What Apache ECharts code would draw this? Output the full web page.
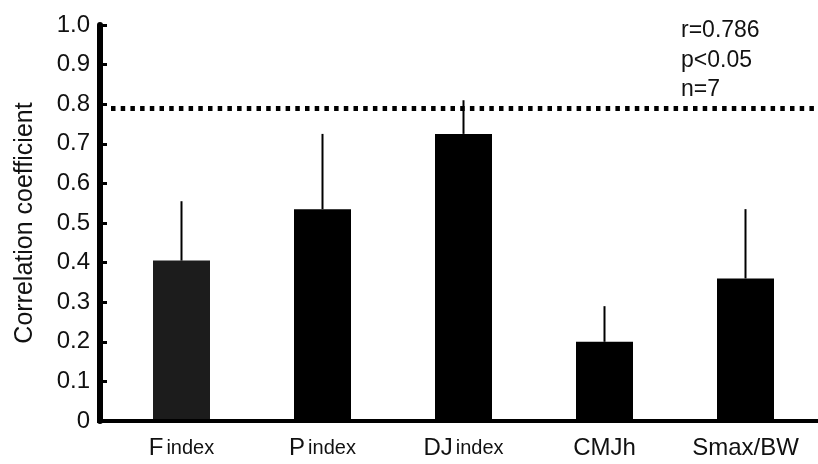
<!DOCTYPE html>
<html>
<head>
<meta charset="utf-8">
<script src="https://cdn.jsdelivr.net/npm/echarts@6/dist/echarts.min.js"></script>
<style>
  html, body { margin: 0; padding: 0; background: #fff; }
  #chart { width: 818px; height: 464px; }
</style>
</head>
<body>
<div id="chart"></div>
<script>
// Correlation coefficient of each jump index (mean + SD)
const categories = ['Findex', 'Pindex', 'DJindex', 'CMJh', 'Smax/BW'];
const coefficients = [0.405, 0.535, 0.725, 0.200, 0.360];
const stdDev = [0.150, 0.190, 0.085, 0.090, 0.175];
const criticalR = 0.786;
const statLines = ['r=0.786', 'p<0.05', 'n=7'];
const yTickLabels = ['0', '0.1', '0.2', '0.3', '0.4', '0.5', '0.6', '0.7', '0.8', '0.9', '1.0'];

// labels where the leading letters are set larger than the "index" suffix
const labelParts = {
  'Findex': ['F', 'index'],
  'Pindex': ['P', 'index'],
  'DJindex': ['DJ', 'index']
};

const FONT = '"Liberation Sans", Arial, Helvetica, sans-serif';

const chart = echarts.init(document.getElementById('chart'), null, { renderer: 'canvas' });

const option = {
  backgroundColor: '#ffffff',
  animation: false,
  grid: { left: 111, right: 2, top: 25, bottom: 43, containLabel: false },
  xAxis: {
    type: 'category',
    data: categories,
    axisLine: { show: false },
    axisTick: { show: false },
    axisLabel: {
      margin: 13,
      interval: 0,
      color: '#111',
      fontFamily: FONT,
      fontSize: 24,
      formatter: function (v) {
        const p = labelParts[v];
        if (p) return '{big|' + p[0] + '}{small|' + p[1] + '}';
        return '{big|' + v + '}';
      },
      rich: {
        big: { fontFamily: FONT, fontSize: 24, color: '#111', lineHeight: 26, verticalAlign: 'bottom' },
        small: { fontFamily: FONT, fontSize: 20, color: '#111', lineHeight: 26, verticalAlign: 'bottom', padding: [0, 0, 2, 3] }
      }
    },
    splitLine: { show: false }
  },
  yAxis: {
    type: 'value',
    min: 0,
    max: 1,
    interval: 0.1,
    offset: 11,
    name: 'Correlation coefficient',
    nameLocation: 'middle',
    nameGap: 62,
    nameRotate: 90,
    nameTextStyle: { fontFamily: FONT, fontSize: 25, color: '#111' },
    axisLine: { show: true, lineStyle: { color: '#000', width: 6 } },
    axisTick: { show: true, inside: true, length: 7, lineStyle: { color: '#000', width: 3 } },
    axisLabel: {
      margin: 10,
      color: '#111',
      fontFamily: FONT,
      fontSize: 24,
      formatter: function (v) {
        return yTickLabels[Math.round(v * 10)];
      }
    },
    splitLine: { show: false }
  },
  series: [
    {
      type: 'bar',
      data: coefficients.map(function (v, i) {
        return i === 0 ? { value: v, itemStyle: { color: '#1c1c1c' } } : v;
      }),
      barWidth: 57,
      itemStyle: { color: '#000' },
      markLine: {
        silent: true,
        symbol: ['none', 'none'],
        label: { show: false },
        lineStyle: { color: '#000', width: 5, type: [4.5, 5.2] },
        data: [{ yAxis: criticalR }]
      },
      z: 2
    },
    {
      type: 'custom',
      data: coefficients.map(function (v, i) { return [i, v, v + stdDev[i]]; }),
      renderItem: function (params, api) {
        const base = api.coord([api.value(0), api.value(1)]);
        const tip = api.coord([api.value(0), api.value(2)]);
        return {
          type: 'line',
          shape: { x1: base[0], y1: base[1], x2: tip[0], y2: tip[1] },
          style: { stroke: '#000', lineWidth: 2 }
        };
      },
      z: 3
    }
  ],
  graphic: [
    {
      type: 'text',
      left: 681,
      top: 16,
      style: {
        text: statLines.join('\n'),
        font: '23px ' + FONT,
        fill: '#111',
        lineHeight: 29.5
      }
    }
  ]
};

chart.setOption(option);

// baseline running from the y axis to the right edge at value 0
const zeroY = chart.convertToPixel({ yAxisIndex: 0 }, 0);
chart.setOption({
  graphic: [
    option.graphic[0],
    {
      type: 'line',
      shape: { x1: 97, y1: zeroY, x2: 818, y2: zeroY },
      style: { stroke: '#000', lineWidth: 4 },
      z: 10
    }
  ]
});
</script>
</body>
</html>
